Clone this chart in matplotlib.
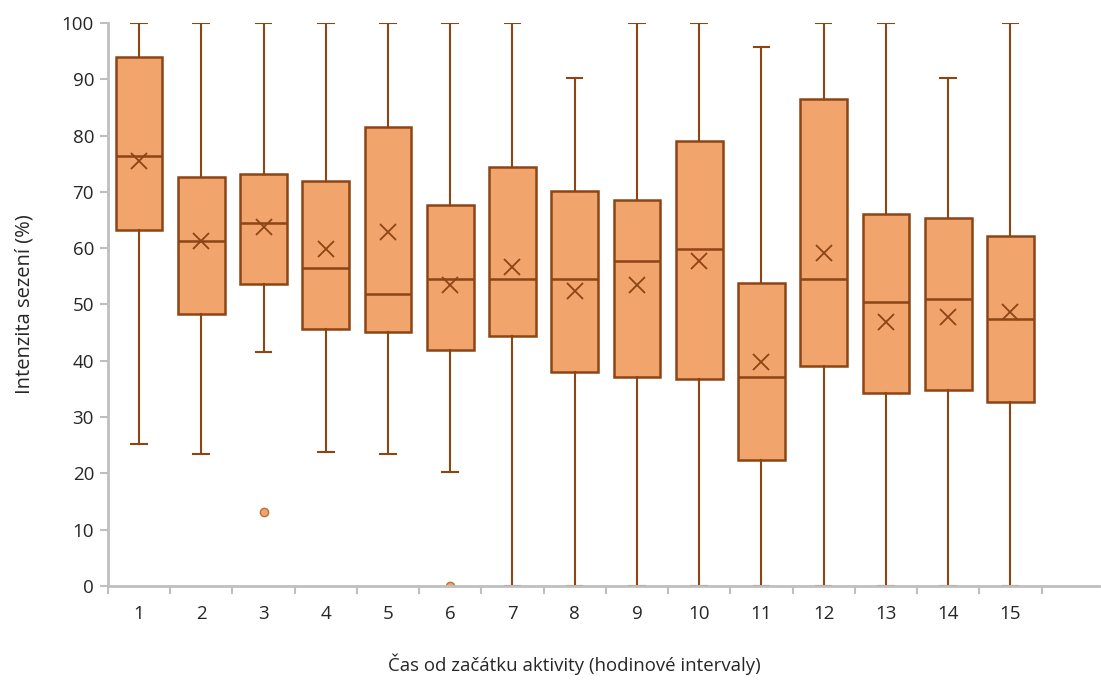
import matplotlib.pyplot as plt

# hodnoty
hodiny = list(range(1, 16))
whis_hi = [100, 100, 100, 100, 100, 100, 100, 90.3, 100, 100, 95.8, 100, 100, 90.3, 100]
q3 = [93.9, 72.6, 73.1, 72.0, 81.6, 67.7, 74.5, 70.2, 68.5, 79.0, 53.9, 86.5, 66.0, 65.3, 62.2]
median = [76.3, 61.3, 64.5, 56.4, 51.8, 54.5, 54.5, 54.5, 57.7, 59.9, 37.2, 54.6, 50.4, 51.0, 47.5]
mean = [75.5, 61.3, 63.8, 59.8, 62.8, 53.5, 56.7, 52.4, 53.5, 57.8, 39.7, 59.2, 46.8, 47.7, 48.6]
q1 = [63.2, 48.3, 53.6, 45.7, 45.1, 41.9, 44.4, 38.0, 37.2, 36.8, 22.3, 39.1, 34.3, 34.8, 32.6]
whis_lo = [25.2, 23.4, 41.5, 23.8, 23.4, 20.2, 0, 0, 0, 0, 0, 0, 0, 0, 0]
outliers = [[], [], [13.1], [], [], [0], [], [], [], [], [], [], [], [], []]

fill = '#F1A46C'
edge = '#8C4515'
osa = '#BFBFBF'

plt.rcParams['font.family'] = ['Open Sans', 'DejaVu Sans']

fig = plt.figure(figsize=(11.01, 6.82), dpi=100)
ax = fig.add_axes([0.098, 0.1408, 0.9, 0.8255])

stats = []
for i in range(len(hodiny)):
    stats.append({'whislo': whis_lo[i], 'q1': q1[i], 'med': median[i], 'q3': q3[i],
                  'whishi': whis_hi[i], 'mean': mean[i], 'fliers': outliers[i]})

ax.bxp(stats, positions=hodiny, widths=0.75, patch_artist=True, showmeans=True,
       boxprops=dict(facecolor=fill, edgecolor=edge, linewidth=1.8),
       medianprops=dict(color=edge, linewidth=1.8),
       whiskerprops=dict(color=edge, linewidth=1.5),
       capprops=dict(color=edge, linewidth=1.5),
       capwidths=0.25,
       meanprops=dict(marker='x', markeredgecolor=edge, markersize=12, markeredgewidth=1.3),
       flierprops=dict(marker='o', markerfacecolor=fill, markeredgecolor='#C0703A',
                       markersize=6, markeredgewidth=1),
       zorder=2)

ax.set_ylim(0, 100)
ax.set_xlim(0.5, 16.42)
ax.set_yticks(range(0, 101, 10))

# hranice kategorií jako hlavní ticky, popisky uprostřed
ax.set_xticks([h - 0.5 for h in hodiny] + [15.5])
ax.set_xticklabels([])
ax.set_xticks(hodiny, minor=True)
ax.set_xticklabels([str(h) for h in hodiny], minor=True)
ax.tick_params(axis='x', which='major', length=6, color=osa, width=1.5, direction='out')
ax.tick_params(axis='x', which='minor', length=0, pad=14, labelsize=13.5, labelcolor='#262626')
ax.tick_params(axis='y', length=6, color=osa, width=1.5, labelsize=13.5, labelcolor='#262626', pad=4)

for s in ['top', 'right']:
    ax.spines[s].set_visible(False)
for s in ['left', 'bottom']:
    ax.spines[s].set_color(osa)
    ax.spines[s].set_linewidth(2)
    ax.spines[s].set_zorder(3)

ax.set_xlabel('Čas od začátku aktivity (hodinové intervaly)', fontsize=13.4, color='#262626')
ax.xaxis.set_label_coords(0.471, -0.12)
ax.set_ylabel('Intenzita sezení (%)', fontsize=14.5, color='#262626')
ax.yaxis.set_label_coords(-0.074, 0.5)

fig.savefig('out.png', dpi=100)
